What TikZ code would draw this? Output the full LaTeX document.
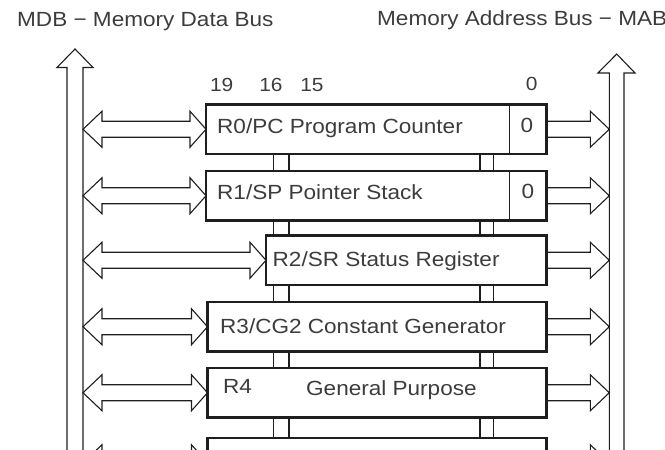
\documentclass[tikz,border=0pt]{standalone}
\usepackage{fontspec}
\setmainfont{Liberation Sans}[FakeStretch=1.1]
\usetikzlibrary{calc}
\definecolor{ink}{HTML}{1E1E1E}
\definecolor{labelgray}{HTML}{3C3C3C}

% double-headed bus transfer arrow between two points at the same height
\newcommand\bidir[2]{%
  \draw[wire] let \p1=(#1), \p2=(#2) in
    (\x1,\y1) -- (\x1+19pt,\y1+18pt) -- (\x1+19pt,\y1+8pt) -- (\x2-16pt,\y1+8pt)
    -- (\x2-16pt,\y1+18pt) -- (\x2,\y1) -- (\x2-16pt,\y1-18pt) -- (\x2-16pt,\y1-8pt)
    -- (\x1+19pt,\y1-8pt) -- (\x1+19pt,\y1-18pt) -- cycle;}
% single-headed arrow from a register to the address bus
\newcommand\outarrow[2]{%
  \draw[wire] let \p1=(#1), \p2=(#2) in
    (\x1,\y1+8pt) -- (\x2-19pt,\y1+8pt) -- (\x2-19pt,\y1+18pt) -- (\x2,\y1)
    -- (\x2-19pt,\y1-18pt) -- (\x2-19pt,\y1-8pt) -- (\x1,\y1-8pt);}

\begin{document}
\begin{tikzpicture}[x=1pt,y=1pt,
  regbox/.style={draw=ink, line width=2.6pt, rectangle, inner sep=0pt, outer sep=0pt,
    anchor=north west, minimum height=49.5pt},
  wire/.style={draw=ink, line width=1.1pt, line join=miter},
  reglabel/.style={text=labelgray, font=\fontsize{20.5}{24}\selectfont, inner sep=0pt, anchor=base west},
  bitlabel/.style={text=labelgray, font=\fontsize{19}{22}\selectfont, inner sep=0pt, anchor=base},
  title/.style={text=labelgray, font=\fontsize{20.5}{24}\selectfont, inner sep=0pt, anchor=base west}]

\useasboundingbox (0,0) rectangle (665,-450);
\clip (0,0) rectangle (665,-450);

% bus titles
\node[title] (mdbtitle) at (17,-26) {MDB − Memory Data Bus};
\node[title] (mabtitle) at (377,-25.5) {Memory Address Bus − MAB};

% bit numbers
\node[bitlabel] (b19) at (221.7,-91.5) {19};
\node[bitlabel] (b16) at (271,-91.5) {16};
\node[bitlabel] (b15) at (312,-91.5) {15};
\node[bitlabel] (b0)  at (531.7,-90.5) {0};

% register boxes
\node[regbox, minimum width=340.5pt] (r0) at (206,-104.5) {};
\node[regbox, minimum width=340.5pt] (r1) at (206,-171) {};
\node[regbox, minimum width=280.5pt] (r2) at (266,-235.5) {};
\node[regbox, minimum width=339pt]   (r3) at (207.5,-302) {};
\node[regbox, minimum width=339pt]   (r4) at (207.5,-368) {};
\node[regbox, minimum width=339pt]   (r5) at (207.5,-438) {};

% bit-0 cells of PC and SP
\coordinate (cell) at (509.5,0);
\draw[wire] (cell |- r0.north) -- (cell |- r0.south);
\draw[wire] (cell |- r1.north) -- (cell |- r1.south);
\node[bitlabel, font=\fontsize{20.5}{24}\selectfont] (z0) at (527,-132.5) {0};
\node[bitlabel, font=\fontsize{20.5}{24}\selectfont] (z1) at (528,-198.5) {0};

% register names
\node[reglabel] (n0) at (217,-133) {R0/PC Program Counter};
\node[reglabel] (n1) at (217,-199) {R1/SP Pointer Stack};
\node[reglabel] (n2) at (272.5,-266.5) {R2/SR Status Register};
\node[reglabel] (n3) at (220,-333) {R3/CG2 Constant Generator};
\node[reglabel] (n4) at (223,-393.5) {R4};
\node[reglabel] (g4) at (306,-395.5) {General Purpose};

% links between neighbouring registers
\coordinate (la) at (273.5,0);
\coordinate (lb) at (289,0);
\coordinate (lc) at (480,0);
\coordinate (ld) at (493.5,0);
\foreach \u/\v in {r0/r1,r1/r2,r2/r3,r3/r4,r4/r5}{
  \foreach \c in {la,lb,lc,ld}
    \draw[wire] (\c |- \u.south) -- (\c |- \v.north);
}

% data bus (left) and address bus (right)
\coordinate (mdbL) at (67,-67.5);
\coordinate (mdbR) at (83,-67.5);
\coordinate (mdbTip) at (75,-49);
\draw[wire] (mdbL |- 0,-470) -- (mdbL) -- ++(-10,0) -- (mdbTip) -- ($(mdbR)+(10,0)$) -- (mdbR) -- (mdbR |- 0,-470);
\coordinate (mabL) at (609.3,-73);
\coordinate (mabR) at (624,-73);
\coordinate (mabTip) at (616.7,-54);
\draw[wire] (mabL |- 0,-470) -- (mabL) -- ++(-11.3,0) -- (mabTip) -- ($(mabR)+(11,0)$) -- (mabR) -- (mabR |- 0,-470);

% register <-> data bus
\foreach \r in {r0,r1,r2,r3,r4,r5}{
  \bidir{mdbR |- \r.west}{\r.west}
  \outarrow{\r.east}{mabL |- \r.east}
}
\end{tikzpicture}
\end{document}
